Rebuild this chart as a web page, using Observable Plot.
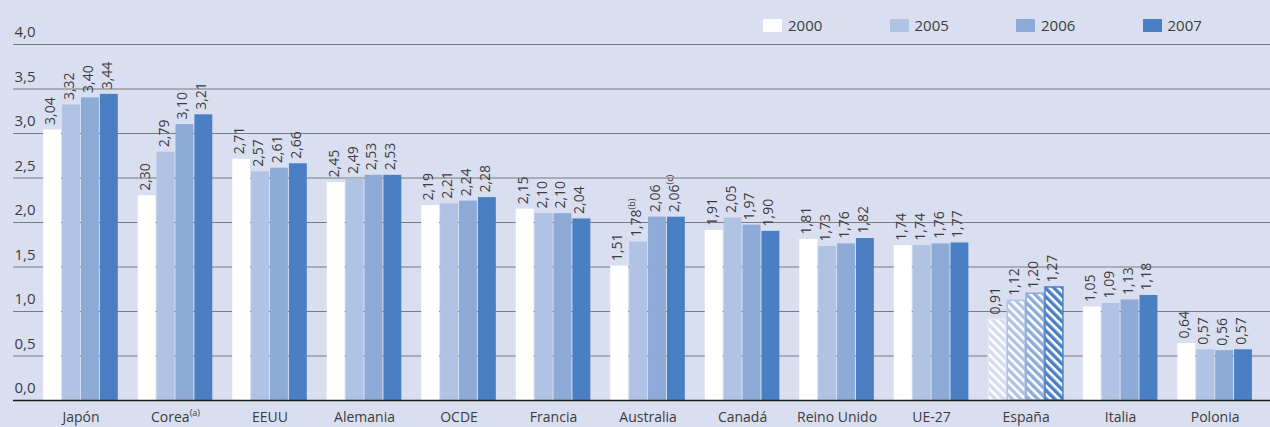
<!DOCTYPE html>
<html><head><meta charset="utf-8">
<script src="https://cdn.jsdelivr.net/npm/d3@7"></script>
<script src="https://cdn.jsdelivr.net/npm/@observablehq/plot@0.6"></script>
<style>
body{margin:0;background:#d9dff1;font-family:"Open Sans",sans-serif;}
#wrap{position:relative;width:1270px;height:427px;overflow:hidden}
#legend{position:absolute;left:763px;top:17px;display:flex;}
.item{display:flex;align-items:center;width:126.5px;font-size:15px;color:#3c3c3c;line-height:17px}
.sw{width:19px;height:13px;margin-right:6px}
</style></head><body><div id="wrap"><div id="legend"></div></div>
<script>
const countries = ["Japón","Corea","EEUU","Alemania","OCDE","Francia","Australia","Canadá","Reino Unido","UE-27","España","Italia","Polonia"];
const countryNotes = ["","(a)","","","","","","","","","","",""];
const years = ["2000","2005","2006","2007"];
const v2000 = [3.04,2.30,2.71,2.45,2.19,2.15,1.51,1.91,1.81,1.74,0.91,1.05,0.64];
const v2005 = [3.32,2.79,2.57,2.49,2.21,2.10,1.78,2.05,1.73,1.74,1.12,1.09,0.57];
const v2006 = [3.40,3.10,2.61,2.53,2.24,2.10,2.06,1.97,1.76,1.76,1.20,1.13,0.56];
const v2007 = [3.44,3.21,2.66,2.53,2.28,2.04,2.06,1.90,1.82,1.77,1.27,1.18,0.57];
const valueNotes = [{country:"Australia", year:"2005", note:"(b)"},{country:"Australia", year:"2007", note:"(c)"}];
const yTicks = [0,0.5,1,1.5,2,2.5,3,3.5,4];
const colors = ["#ffffff","#b0c3e4","#8eabd8","#4a80c3"];
const hatchStripe = ["#d3dbee","#b0c3e4","#8eabd8","#4a80c3"];
const hatchStroke = ["#e3e8f5","#b0c3e4","#8eabd8","#4a80c3"];
const hatchedCountry = "España";

const series = [v2000,v2005,v2006,v2007];
const fmt = v => d3.format(".2f")(v).replace(".", ",");
const rows = [];
countries.forEach((c,i) => years.forEach((y,j) => {
  const n = valueNotes.find(d => d.country===c && d.year===y);
  rows.push({i, j, country:c, year:y, value:series[j][i],
    x1: i + (j-2)*0.2, x2: i + (j-1)*0.2,
    label: fmt(series[j][i]) + (n ? "^" + n.note : "")});
}));

const plot = Plot.plot({
  width:1270, height:427,
  marginLeft:13, marginRight:0, marginTop:44, marginBottom:27,
  style:{fontFamily:"'Open Sans', sans-serif", fontSize:"14px", color:"#3c3c3c", background:"transparent"},
  x:{domain:[-0.714,12.586], ticks:d3.range(countries.length), tickSize:0, tickPadding:12,
     tickFormat:i => countries[i] + (countryNotes[i] ? "^" + countryNotes[i] : ""), label:null},
  y:{domain:[0,4], axis:null},
  color:{type:"identity"},
  marks:[
    Plot.ruleY(yTicks.filter(d => d>0), {stroke:"#7b7b7b", strokeWidth:1}),
    Plot.rect(rows, {x1:"x1", x2:"x2", y1:0, y2:"value",
      fill: d => d.country===hatchedCountry ? `url(#hatch${d.year})` : colors[d.j],
      stroke: d => d.country===hatchedCountry ? hatchStroke[d.j] : "none",
      strokeWidth:1.5, insetLeft:0.5, insetRight:0.5}),
    Plot.ruleY([0], {stroke:"#1e1e1e", strokeWidth:1.5}),
    Plot.text(yTicks, {y:d => d, text:d => d3.format(".1f")(d).replace(".", ","),
      frameAnchor:"left", textAnchor:"start", dx:1, dy:-12, fontSize:15, fill:"#3c3c3c"}),
    Plot.text(rows, {x:d => (d.x1+d.x2)/2, y:"value", text:"label", rotate:-90,
      textAnchor:"start", lineAnchor:"middle", dy:-5, dx:-2, fontSize:14, fill:"#3c3c3c"})
  ]
});

// hatch patterns for España
const svg = d3.select(plot);
const defs = svg.insert("defs", ":first-child");
years.forEach((y,j) => {
  const p = defs.append("pattern").attr("id", "hatch"+y)
    .attr("patternUnits","userSpaceOnUse").attr("width",6).attr("height",6)
    .attr("patternTransform","rotate(-45)");
  p.append("rect").attr("width",6).attr("height",6).attr("fill","#ffffff");
  p.append("rect").attr("width",3.4).attr("height",6).attr("fill",hatchStripe[j]);
});

// superscript notes
svg.selectAll("text").each(function(){
  const t = this.textContent;
  if (t.includes("^")) {
    const [base, sup] = t.split("^");
    const el = d3.select(this);
    el.text(null);
    el.append("tspan").text(base);
    el.append("tspan").attr("font-size","9px").attr("dy","-6").text(sup);
  }
});

document.getElementById("wrap").appendChild(plot);

const legend = d3.select("#legend");
years.forEach((y,j) => {
  const it = legend.append("div").attr("class","item");
  it.append("div").attr("class","sw").style("background", colors[j]);
  it.append("span").text(y);
});
</script>
</body></html>
